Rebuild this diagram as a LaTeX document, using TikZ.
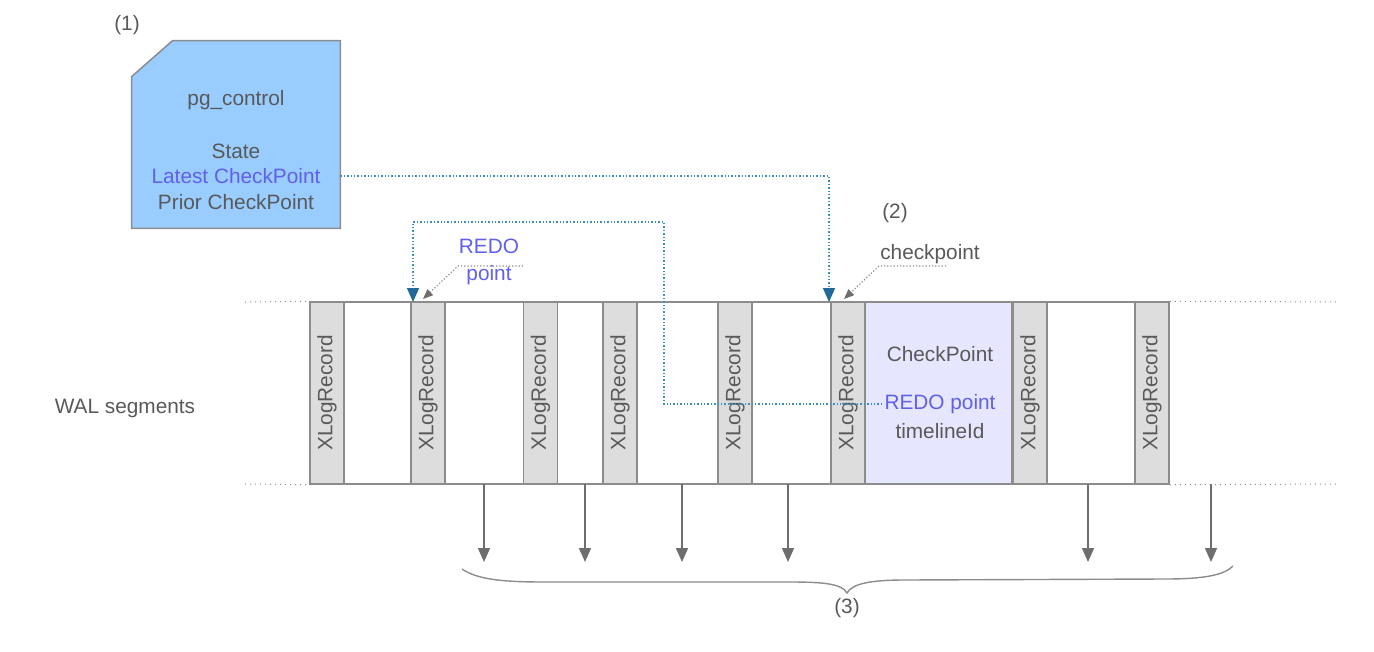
\documentclass[tikz,border=0pt]{standalone}
\usepackage{fontspec}
\setmainfont{Liberation Sans}
\usetikzlibrary{arrows.meta,calc}
\definecolor{txtgray}{HTML}{595959}
\definecolor{txtblue}{HTML}{6060E8}
\definecolor{pgfillc}{HTML}{99CCFF}
\definecolor{edgegray}{HTML}{8C8C8C}
\definecolor{barfill}{HTML}{DDDDDD}
\definecolor{cpfill}{HTML}{E6E6FF}
\definecolor{lineblue}{HTML}{3A8FC0}
\definecolor{tipblue}{HTML}{1F6A99}
\definecolor{arrgray}{HTML}{6E6E6E}
\tikzset{
  lbl/.style={font=\fontsize{10.4}{12.5}\selectfont, text=txtgray, inner sep=1pt},
  bluelbl/.style={lbl, text=txtblue},
  xbar/.style={draw=edgegray, line width=0.75pt, fill=barfill, rotate=90,
    minimum width=91pt, minimum height=17pt, inner sep=0pt,
    font=\fontsize{10.4}{12.5}\selectfont, text=txtgray},
  cpbox/.style={draw=edgegray, line width=0.75pt, fill=cpfill,
    minimum width=73.5pt, minimum height=91pt, inner sep=0pt},
  frame/.style={draw=edgegray, line width=0.75pt,
    minimum width=429.5pt, minimum height=91pt, inner sep=0pt},
  pgbox/.style={draw=edgegray, line width=0.75pt, fill=pgfillc},
  ext/.style={draw=edgegray, line width=0.5pt, dotted},
  blueline/.style={draw=lineblue, line width=0.7pt, densely dotted,
    -{Triangle[width=6pt,length=7pt,color=tipblue]}},
  leader/.style={draw=edgegray, line width=0.6pt, densely dotted,
    -{Triangle[width=4pt,length=5pt,color=arrgray]}},
  downarr/.style={draw=arrgray, line width=0.75pt,
    -{Triangle[width=6pt,length=7pt]}},
  brace/.style={draw=edgegray, line width=0.7pt}
}
\begin{document}
\begin{tikzpicture}[x=0.5pt,y=-0.5pt]
\useasboundingbox (0,0) rectangle (1374,652);

% pg_control box
\node[minimum width=104pt, minimum height=93.5pt, inner sep=0pt] (pg) at (236,134.5) {};
\draw[pgbox] (pg.south west) -- ($(pg.north west)+(0,36)$) -- ($(pg.north west)+(41,0)$)
  -- (pg.north east) -- (pg.south east) -- cycle;
\node[lbl] (n1) at (127,25) {(1)};
\node[lbl] (pgname) at (236,100) {pg\_control};
\node[lbl] (state) at (236,151) {State};
\node[bluelbl] (lcp) at (236,176) {Latest CheckPoint};
\node[lbl] (pcp) at (236,202) {Prior CheckPoint};

% WAL segments
\node[lbl] (wallbl) at (125,408) {WAL segments};
\node[frame] (wal) at (739.5,393) {};
\draw[ext] (245,302) -- (wal.north west);
\draw[ext] (wal.north east) -- (1338,302);
\draw[ext] (245,484) -- (wal.south west);
\draw[ext] (wal.south east) -- (1338,484);

\node[cpbox] (cp) at (938.5,393) {};
\node[lbl] (cpt) at (940,354) {CheckPoint};
\node[bluelbl] (redo2) at (940,404) {REDO point};
\node[lbl] (tli) at (940,431) {timelineId};

\node[xbar] (b1) at (327,393) {XLogRecord};
\node[xbar] (b2) at (428,393) {XLogRecord};
\node[xbar] (b3) at (540.5,393) {XLogRecord};
\node[xbar] (b4) at (620,393) {XLogRecord};
\node[xbar] (b5) at (735,393) {XLogRecord};
\node[xbar] (b6) at (848,393) {XLogRecord};
\node[xbar] (b7) at (1030,393) {XLogRecord};
\node[xbar] (b8) at (1152,393) {XLogRecord};

% labels (2), REDO point, checkpoint
\node[lbl] (n2) at (895,213) {(2)};
\node[lbl] (ckl) at (930,254) {checkpoint};
\node[bluelbl, align=center] (redo1) at (489,262) {REDO\\[1pt]point};

% connectors
\coordinate (t2) at (829,302);
\coordinate (t1) at (413,302);
\coordinate (v1) at (664,222);
\draw[blueline] (pg.east |- lcp.center) -| (t2);
\draw[blueline] (redo2.west) -| (v1) -| (t1);

\coordinate (l1a) at (523,266);
\coordinate (l1b) at (458,266);
\coordinate (l1c) at (423,299);
\draw[leader] (l1a) -- (l1b) -- (l1c);
\coordinate (l2a) at (946,266);
\coordinate (l2b) at (879,266);
\coordinate (l2c) at (844,299);
\draw[leader] (l2a) -- (l2b) -- (l2c);

% bottom arrows
\foreach \i/\x in {1/484,2/585,3/682,4/788,5/1088,6/1211}{
  \coordinate (s\i) at (\x,484);
  \coordinate (e\i) at (\x,562);
  \draw[downarr] (s\i) -- (e\i);
}

% brace
\coordinate (bl) at (462,569);
\coordinate (bm) at (847,593);
\coordinate (br) at (1233,566);
\draw[brace] (bl) .. controls (478,580) and (505,582) .. (545,582)
  -- (790,582) .. controls (825,582) and (842,584) .. (bm)
  .. controls (852,584) and (869,580) .. (905,580)
  -- (1165,579) .. controls (1205,579) and (1224,575) .. (br);
\node[lbl] (n3) at (847,608) {(3)};
\end{tikzpicture}
\end{document}
